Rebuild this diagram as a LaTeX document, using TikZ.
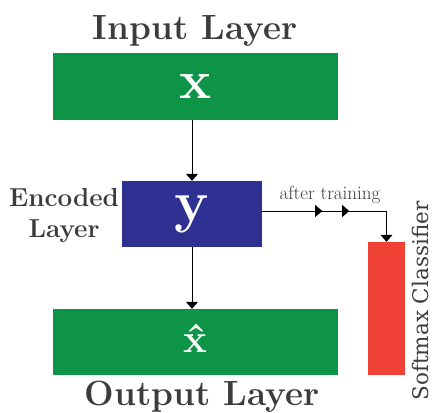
\documentclass[tikz,border=0pt]{standalone}
\usetikzlibrary{arrows.meta,decorations.markings}
\usepackage{fontspec}
\newfontfamily\slabfont{DejaVu Serif}
\definecolor{boxgreen}{HTML}{0E9446}
\definecolor{boxblue}{HTML}{2E3192}
\definecolor{boxred}{HTML}{EF4136}
\definecolor{txt}{HTML}{3C3C3C}
\begin{document}
\begin{tikzpicture}[x=1pt,y=-1pt,
  greenbox/.style={draw=none, fill=boxgreen, inner sep=0pt, minimum width=285pt, minimum height=67pt, text=white},
  bluebox/.style={draw=none, fill=boxblue, inner sep=0pt, minimum width=140pt, minimum height=66pt, text=white},
  redbox/.style={draw=none, fill=boxred, inner sep=0pt, minimum width=37pt, minimum height=133pt},
  title/.style={text=txt, inner sep=0pt, font=\fontsize{35}{40}\selectfont\bfseries},
  conn/.style={draw=black, line width=0.8pt, -{Triangle[width=12pt,length=7pt]}},
  small/.style={text=txt, inner sep=0pt, font=\fontsize{19}{22}\selectfont}
]
\useasboundingbox (0,0) rectangle (432,413);

\node[greenbox] (inl) at (195.5,86.5) {\fontsize{54}{54}\selectfont\bfseries x};
\node[bluebox] (enc) at (192,214) {\fontsize{58}{58}\selectfont\bfseries y};
\node[greenbox, minimum height=66pt] (outl) at (195.5,342) {\raisebox{8pt}{\fontsize{40}{40}\selectfont\bfseries \^{x}}};
\node[redbox] (soft) at (386.5,308.5) {};

\node[title, anchor=base] (intitle) at (195,39) {Input Layer};
\node[title, anchor=base] (outtitle) at (202,405) {Output Layer};
\node[text=txt, inner sep=0pt, align=center, font=\fontsize{26}{31}\selectfont\bfseries] (enclabel) at (64,216) {Encoded\\Layer};
\node[small, anchor=base] (aftert) at (330,199) {after training};
\node[text=txt, inner sep=0pt, rotate=90, font=\fontsize{21.5}{22}\selectfont\slabfont] (softlabel) at (420,301) {Softmax Classifier};

\draw[conn] (enc.north |- inl.south) -- (enc.north);
\draw[conn] (enc.south) -- (enc.south |- outl.north);
\coordinate (e1) at ([yshift=3pt]enc.east);
\draw[conn, postaction={decorate}, decoration={markings,
    mark=at position 60pt with {\arrow{Triangle[width=12pt,length=7pt]}},
    mark=at position 87pt with {\arrow{Triangle[width=12pt,length=7pt]}}}]
  (e1) -| (soft.north);
\end{tikzpicture}
\end{document}
